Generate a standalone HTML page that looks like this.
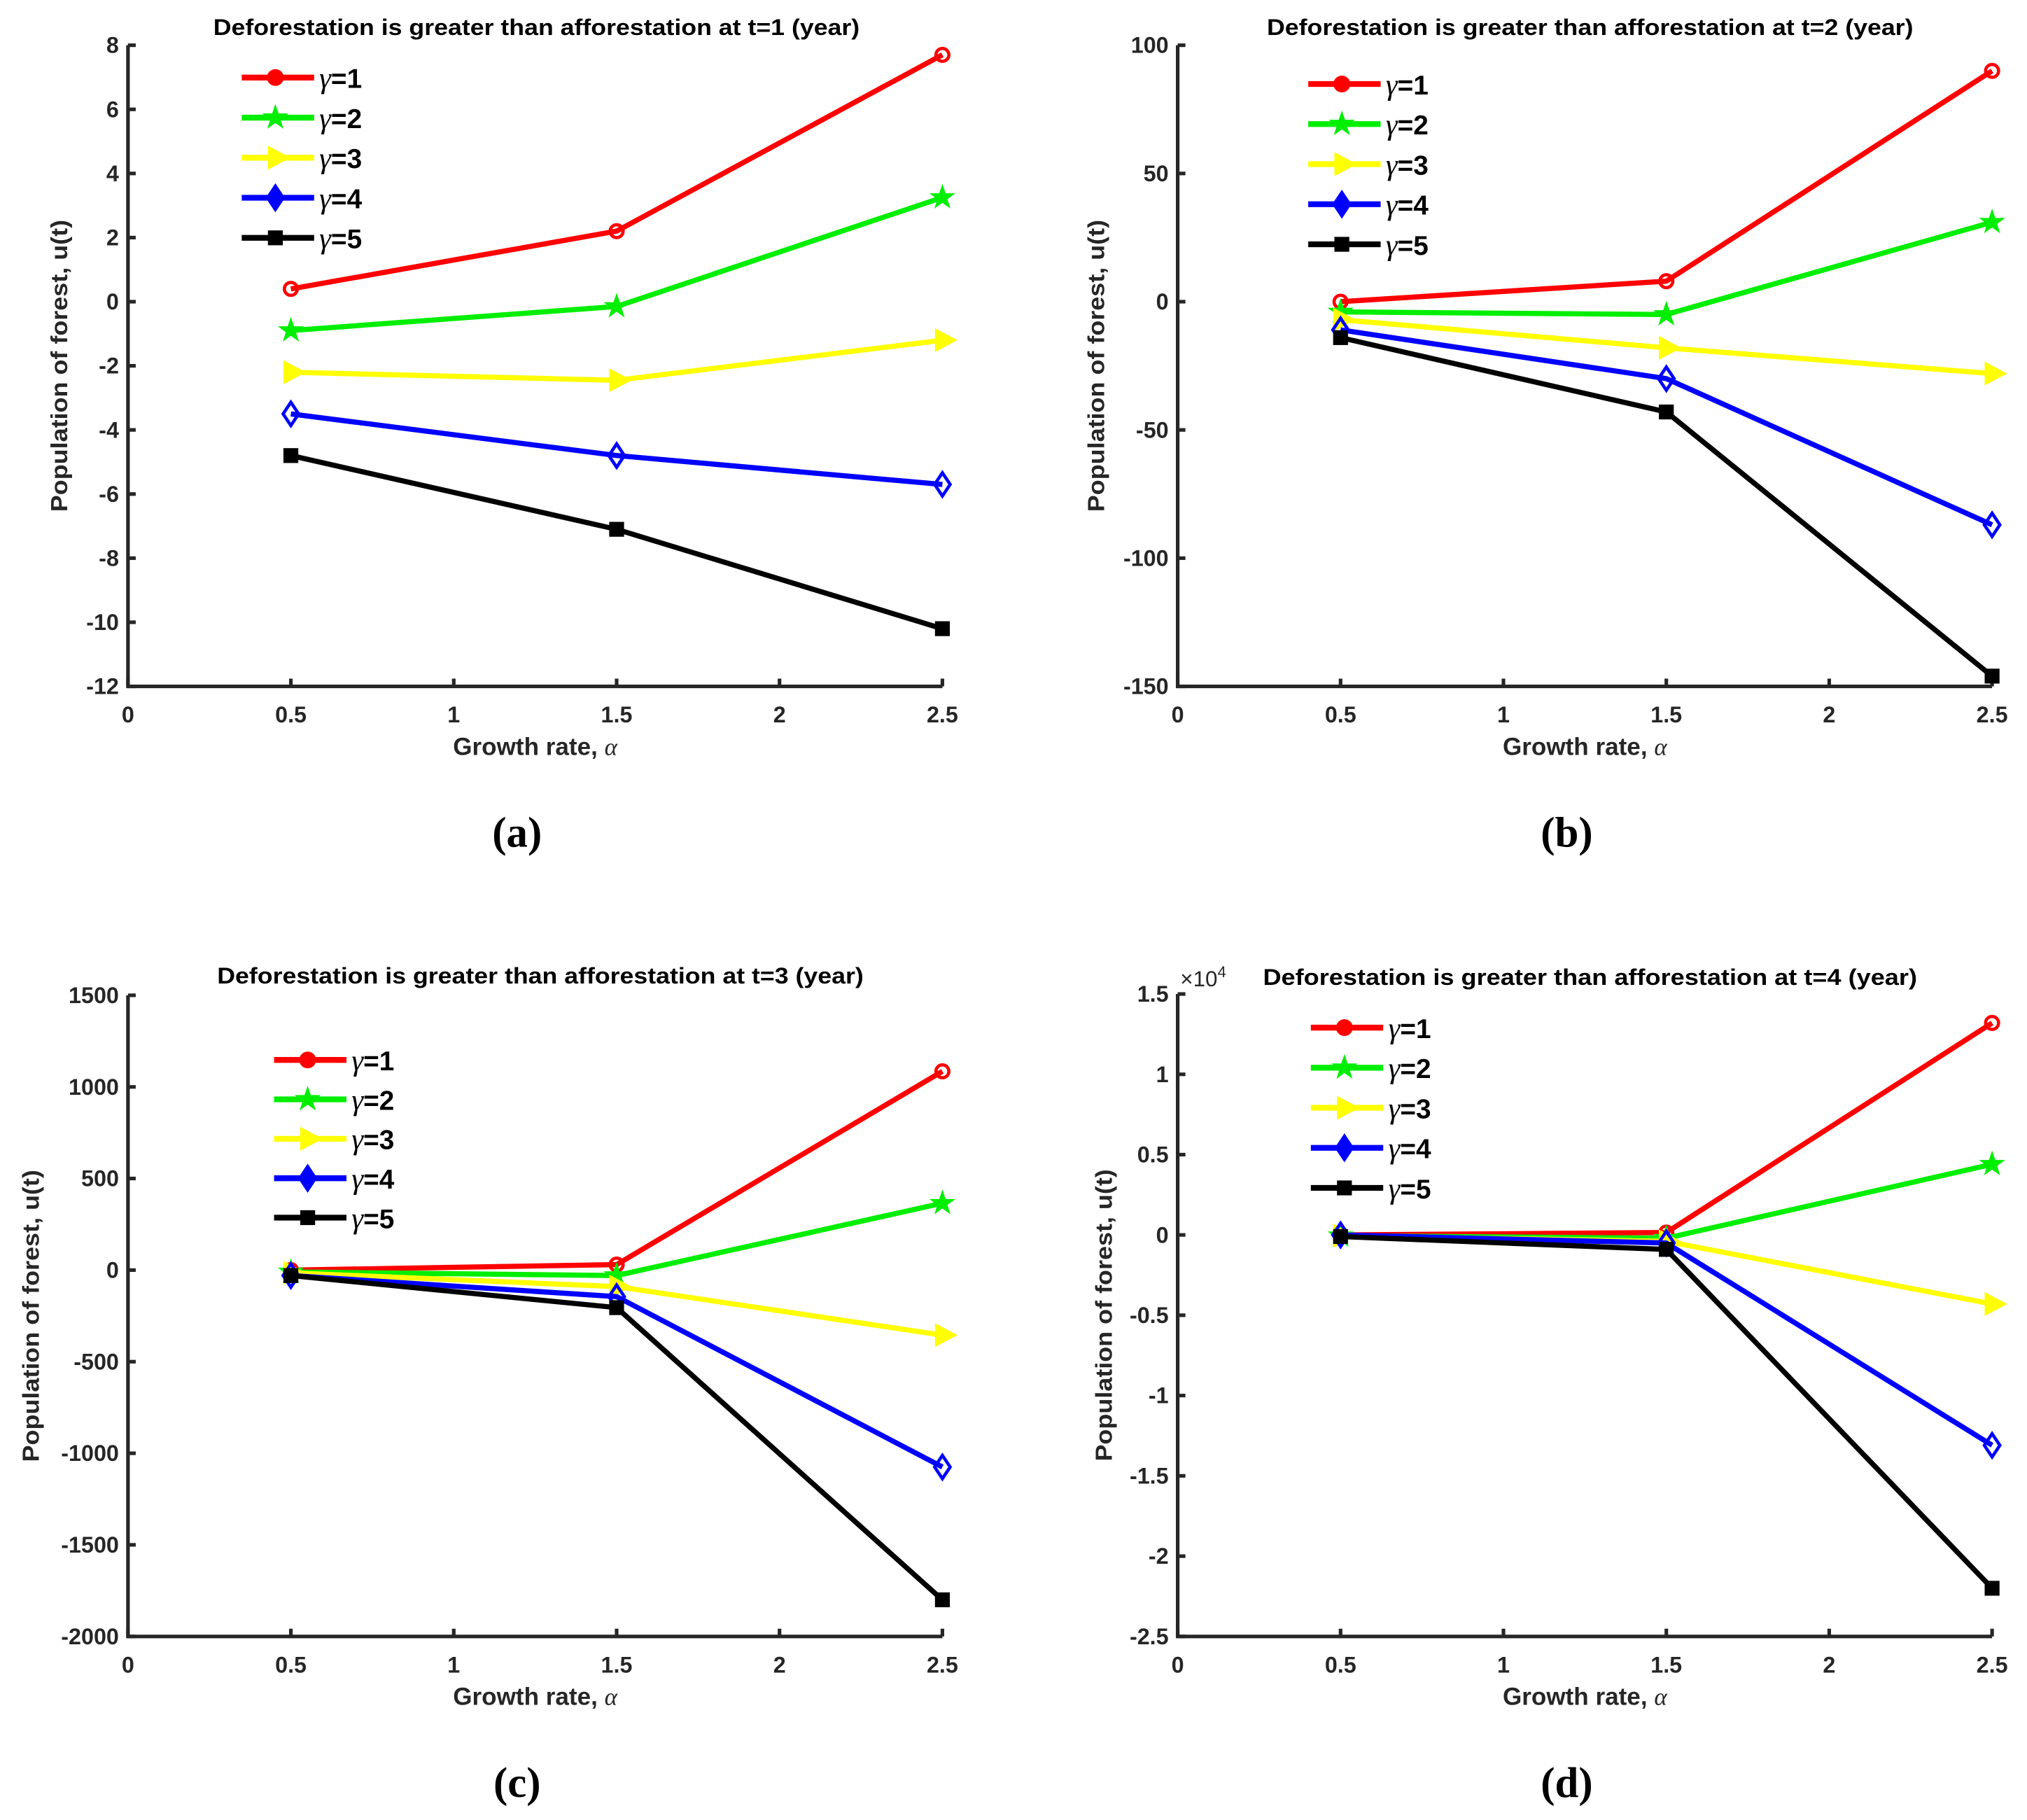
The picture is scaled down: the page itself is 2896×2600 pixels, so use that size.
<!DOCTYPE html>
<html><head><meta charset="utf-8"><style>html,body{margin:0;padding:0;background:#fff}svg{display:block}</style></head>
<body>
<svg id="fig" xmlns="http://www.w3.org/2000/svg" width="2896" height="2600" viewBox="0 0 1568 1408" preserveAspectRatio="none" font-family="Liberation Sans, sans-serif"></svg>
<script>
const xTicks = [0, 0.5, 1, 1.5, 2, 2.5];
const xCats = [0.5, 1.5, 2.5];
const seriesNames = ["γ=1","γ=2","γ=3","γ=4","γ=5"];
const colors = ["#ff0000","#00ee00","#ffff00","#0000ff","#000000"];
const markers = ["circle","star","tri","diamond","square"];
const aVals = [[0.4,2.2,7.7],[-0.9,-0.15,3.25],[-2.2,-2.45,-1.2],[-3.5,-4.8,-5.7],[-4.8,-7.1,-10.2]];
const bVals = [[0,8,90],[-4,-5,31],[-7,-18,-28],[-11,-30,-87],[-14,-43,-146]];
const cVals = [[0,30,1085],[-10,-30,365],[-15,-90,-355],[-30,-145,-1075],[-30,-205,-1800]];
const dVals = [[0,0.015,1.32],[-0.005,-0.02,0.44],[-0.005,-0.04,-0.43],[0,-0.05,-1.31],[-0.01,-0.09,-2.2]];
const aTicks = [8,6,4,2,0,-2,-4,-6,-8,-10,-12];
const bTicks = [100,50,0,-50,-100,-150];
const cTicks = [1500,1000,500,0,-500,-1000,-1500,-2000];
const dTicks = [1.5,1,0.5,0,-0.5,-1,-1.5,-2,-2.5];

const NS="http://www.w3.org/2000/svg";
const svg=document.getElementById('fig');
function mk(tag,attrs,parent,text){const e=document.createElementNS(NS,tag);for(const k in attrs)e.setAttribute(k,attrs[k]);if(text!==undefined)e.textContent=text;(parent||svg).appendChild(e);return e;}

function marker(g,type,cx,cy,color,legend){
  let e;
  if(type==="circle"){e=mk('circle',legend?{cx,cy,r:6.5,fill:color}:{cx,cy,r:5,fill:'none',stroke:color,'stroke-width':2.5},g);}
  else if(type==="square"){e=mk('rect',{x:cx-5,y:cy-5,width:10,height:10,fill:color,stroke:color,'stroke-width':1.5},g);}
  else if(type==="diamond"){e=mk('polygon',{points:`${cx},${cy-9} ${cx+6},${cy} ${cx},${cy+9} ${cx-6},${cy}`,fill:legend?color:'none',stroke:color,'stroke-width':2.5},g);}
  else if(type==="tri"){e=mk('polygon',{points:`${cx+10},${cy} ${cx-5},${cy-8} ${cx-5},${cy+8}`,fill:color,stroke:color,'stroke-width':1.5},g);}
  else {let p=[];for(let i=0;i<10;i++){const r=i%2?3.5:9;const a=-Math.PI/2+i*Math.PI/5;p.push((cx+r*Math.cos(a)).toFixed(1)+','+(cy+r*Math.sin(a)).toFixed(1));}
    e=mk('polygon',{points:p.join(' '),fill:color,stroke:color,'stroke-width':1},g);}
  
  
}

function panel(cfg){
  const g=mk('g',{});
  
  
  const {x0,x1,y0,y1,ticks,vals}=cfg;
  const ymax=ticks[0], ymin=ticks[ticks.length-1];
  const X=v=>x0+(v-0)/(2.5-0)*(x1-x0);
  const Y=v=>y0+(ymax-v)/(ymax-ymin)*(y1-y0);
  const ax=mk('path',{d:`M${x0},${y0} L${x0},${y1} L${x1},${y1}`,fill:'none',stroke:'#262626','stroke-width':2.8},g);
   
  ticks.forEach(t=>{
    mk('line',{x1:x0,y1:Y(t),x2:x0+6,y2:Y(t),stroke:'#262626','stroke-width':2.8},g);
    const tl=mk('text',{x:x0-7,y:Y(t)+6,'text-anchor':'end','font-size':17.5,'font-weight':'bold',fill:'#262626'},g,String(t));
     
  });
  xTicks.forEach(t=>{
    mk('line',{x1:X(t),y1:y1,x2:X(t),y2:y1-6,stroke:'#262626','stroke-width':2.8},g);
    const tl=mk('text',{x:X(t),y:y1+28,'text-anchor':'middle','font-size':17.5,'font-weight':'bold',fill:'#262626'},g,String(t));
     
  });
  const xl=mk('text',{x:(x0+x1)/2,y:y1+53,'text-anchor':'middle','font-size':19,'font-weight':'bold',fill:'#262626'},g);
  xl.innerHTML='Growth rate, <tspan font-family="Liberation Serif, serif" font-style="italic" font-weight="normal">α</tspan>';
   
  const yl=mk('text',{x:0,y:0,transform:`translate(${cfg.ylx},${(y0+y1)/2}) rotate(-90)`,'text-anchor':'middle','font-size':18,'font-weight':'bold',fill:'#262626',textLength:226,lengthAdjust:'spacingAndGlyphs'},g,'Population of forest, u(t)');
   
  const ti=mk('text',{x:cfg.tx,y:cfg.ty,'text-anchor':'middle','font-size':17.5,'font-weight':'bold',fill:'#000',textLength:cfg.tw,lengthAdjust:'spacingAndGlyphs'},g,cfg.title);
   
  if(cfg.exp){const ex=mk('text',{x:x0+2,y:y0-6,'font-size':17,fill:'#262626'},g);ex.innerHTML='×10<tspan dy="-7" font-size="12">4</tspan>';
     }
  vals.forEach((s,i)=>{
    const pts=s.map((v,j)=>X(xCats[j]).toFixed(1)+','+Y(v).toFixed(1)).join(' ');
    const pl=mk('polyline',{points:pts,fill:'none',stroke:colors[i],'stroke-width':4,'stroke-linejoin':'round'},g);
     
    s.forEach((v,j)=>marker(g,markers[i],X(xCats[j]),Y(v),colors[i],false));
  });
  seriesNames.forEach((n,i)=>{
    const ly=cfg.ly+i*cfg.lstep;
    const le=mk('g',{},g);
     
    mk('line',{x1:cfg.lx,y1:ly,x2:cfg.lx+56,y2:ly,stroke:colors[i],'stroke-width':4.5},le);
    marker(le,markers[i],cfg.lx+26,ly,colors[i],true);
    const t=mk('text',{x:cfg.lx+60,y:ly+8,'font-size':21,'font-weight':'bold',fill:'#000'},le);
    t.innerHTML='<tspan font-family="Liberation Serif, serif" font-style="italic" font-weight="normal" font-size="23">γ</tspan>'+n.slice(1);
  });
  const cap=mk('text',{x:cfg.cx,y:cfg.cy,'text-anchor':'middle','font-size':33,'font-weight':'bold','font-family':'Liberation Serif, serif',fill:'#000'},g,cfg.cap);
   
}

panel({id:'a',x0:99,x1:729,y0:35,y1:531,ticks:aTicks,vals:aVals,ylx:52,tx:415,ty:27,tw:500,title:'Deforestation is greater than afforestation at t=1 (year)',lx:187,ly:60,lstep:31,cx:400,cy:655,cap:'(a)'});
panel({id:'b',x0:911,x1:1541,y0:35,y1:531,ticks:bTicks,vals:bVals,ylx:854,tx:1230,ty:27,tw:500,title:'Deforestation is greater than afforestation at t=2 (year)',lx:1012,ly:65,lstep:31,cx:1212,cy:655,cap:'(b)'});
panel({id:'c',x0:99,x1:729,y0:770,y1:1266,ticks:cTicks,vals:cVals,ylx:30,tx:418,ty:761,tw:500,title:'Deforestation is greater than afforestation at t=3 (year)',lx:212,ly:820,lstep:30.5,cx:400,cy:1390,cap:'(c)'});
panel({id:'d',x0:911,x1:1541,y0:769,y1:1266,ticks:dTicks,vals:dVals,ylx:860,tx:1230,ty:762,tw:506,title:'Deforestation is  greater than afforestation at t=4 (year)',lx:1014,ly:795,lstep:31,cx:1212,cy:1390,cap:'(d)',exp:true});
</script>
</body></html>
